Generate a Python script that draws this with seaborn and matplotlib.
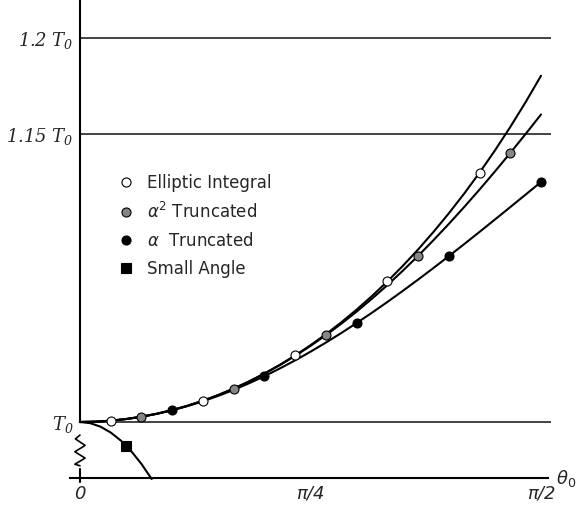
import numpy as np
import pandas as pd
import matplotlib.pyplot as plt
import seaborn as sns
from matplotlib.lines import Line2D

# amplitude theta0 in degrees, period in units of T0
theta = [0, 3, 6, 9, 12, 15, 18, 21, 24, 27, 30, 33, 36, 39, 42, 45,
         48, 51, 54, 57, 60, 63, 66, 69, 72, 75, 78, 81, 84, 87, 90]
elliptic = [1.0, 1.000171, 1.000686, 1.001544, 1.002749, 1.004300, 1.006203, 1.008462,
            1.011078, 1.014058, 1.017409, 1.021136, 1.025247, 1.029751, 1.034656, 1.039974,
            1.045715, 1.051892, 1.058518, 1.065610, 1.073182, 1.081254, 1.089844, 1.098977,
            1.108673, 1.118959, 1.129865, 1.141418, 1.153660, 1.166617, 1.180340]
alpha2_trunc = [1.0, 1.000171, 1.000686, 1.001544, 1.002749, 1.004300, 1.006202, 1.008458,
                1.011070, 1.014042, 1.017378, 1.021081, 1.025155, 1.029603, 1.034426, 1.039628,
                1.045208, 1.051166, 1.057501, 1.064210, 1.071289, 1.078732, 1.086532, 1.094678,
                1.103159, 1.111961, 1.121068, 1.130463, 1.140125, 1.150031, 1.160156]
alpha_trunc = [1.0, 1.000171, 1.000685, 1.001539, 1.002732, 1.004259, 1.006118, 1.008303,
               1.010807, 1.013624, 1.016747, 1.020166, 1.023873, 1.027857, 1.032107, 1.036612,
               1.041359, 1.046335, 1.051527, 1.056920, 1.0625, 1.068251, 1.074158, 1.080204,
               1.086373, 1.092648, 1.099011, 1.105446, 1.111934, 1.118458, 1.125]
small_theta = [0, 2, 4, 6, 8, 10, 12, 14]
small_angle = [1.0, 0.999391, 0.997564, 0.994522, 0.990268, 0.984808, 0.978148, 0.970296]

# marker points
ell_x = [6, 24, 42, 60, 78]
ell_y = [1.000686, 1.011078, 1.034656, 1.073182, 1.129865]
a2_x = [12, 30, 48, 66, 84]
a2_y = [1.002749, 1.017378, 1.045208, 1.086532, 1.140125]
a1_x = [18, 36, 54, 72, 90]
a1_y = [1.006118, 1.023873, 1.051527, 1.086373, 1.125]
sq_x = [9]
sq_y = [0.987688]

ref_levels = [1.0, 1.15, 1.2]
ref_labels = [r"$T_0$", r"$1.15\ T_0$", r"$1.2\ T_0$"]
x_ticks = [0, 45, 90]
x_labels = ["0", "π/4", "π/2"]

sns.set_style("white")
plt.rcParams['font.family'] = ['DejaVu Sans']
plt.rcParams['mathtext.fontset'] = 'dejavusans'
# serif italic set, used only by the y labels
plt.rcParams['mathtext.rm'] = 'DejaVu Serif:italic'
plt.rcParams['mathtext.it'] = 'DejaVu Serif:italic'

fig = plt.figure(figsize=(5.77, 5.08), dpi=100)
ax = fig.add_axes([70 / 577, 26 / 508, 481 / 577, 482 / 508])

x_axis_y = 0.970833
ax.set_xlim(-1.95, 91.95)
ax.set_ylim(0.96875, 1.219792)

# reference levels
ax.hlines(ref_levels, 0, 91.95, color='#222222', lw=1.2, zorder=1)

# curves
for ys in [elliptic, alpha2_trunc, alpha_trunc]:
    sns.lineplot(x=theta, y=ys, ax=ax, color='black', lw=1.5, sort=False,
                 estimator=None, zorder=2)
sns.lineplot(x=small_theta, y=small_angle, ax=ax, color='black', lw=1.5, sort=False,
             estimator=None, zorder=2)

# markers
ms = 42
sns.scatterplot(x=ell_x, y=ell_y, ax=ax, color='white', edgecolor='black', s=ms,
                linewidth=0.8, zorder=3)
sns.scatterplot(x=a2_x, y=a2_y, ax=ax, color='#858585', edgecolor='black', s=ms,
                linewidth=0.8, zorder=3)
sns.scatterplot(x=a1_x, y=a1_y, ax=ax, color='black', edgecolor='black', s=ms,
                linewidth=0.8, zorder=3)
sns.scatterplot(x=sq_x, y=sq_y, ax=ax, color='black', edgecolor='black', s=ms,
                marker='s', linewidth=0.8, zorder=3)

# axes lines
for s in ['top', 'right']:
    ax.spines[s].set_visible(False)
ax.spines['left'].set_position(('data', 0))
ax.spines['left'].set_bounds(1.0, 1.219792)
ax.spines['bottom'].set_position(('data', x_axis_y))
ax.spines['bottom'].set_bounds(-1.95, 91.4)
for s in ['left', 'bottom']:
    ax.spines[s].set_linewidth(1.5)
    ax.spines[s].set_color('black')

# axis break on y axis
ax.plot([0, 0], [0.97552, 0.96875], color='black', lw=1.5, clip_on=False)
ax.plot([0, -0.9, 1.0, -1.0, 1.0, -1.0, 0.0],
        [0.9932, 0.9912, 0.9878, 0.9845, 0.9812, 0.9780, 0.9772],
        color='black', lw=1.2, clip_on=False)

ax.set_xticks(x_ticks)
ax.set_xticklabels(x_labels)
ax.tick_params(axis='x', direction='in', length=8, width=1.2, pad=5, labelsize=13)
for tl in ax.get_xticklabels():
    tl.set_fontstyle('italic')
ax.set_yticks(ref_levels)
ax.set_yticklabels(ref_labels)
ax.tick_params(axis='y', length=0, pad=4.5, labelsize=13)
for tl in ax.get_yticklabels():
    tl.set_math_fontfamily('custom')

ax.text(93.0, x_axis_y, r"$\theta_{\mathit{0}}$", fontsize=13, ha='left', va='center')
ax.set_xlabel("")
ax.set_ylabel("")

handles = [
    Line2D([], [], marker='o', ls='none', mfc='white', mec='black', ms=6.5, mew=0.8),
    Line2D([], [], marker='o', ls='none', mfc='#858585', mec='black', ms=6.5, mew=0.8),
    Line2D([], [], marker='o', ls='none', mfc='black', mec='black', ms=6.5, mew=0.8),
    Line2D([], [], marker='s', ls='none', mfc='black', mec='black', ms=6.5, mew=0.8),
]
labels = ["Elliptic Integral", r"$\alpha^2$ Truncated", r"$\alpha$  Truncated", "Small Angle"]
ax.legend(handles, labels, loc='upper left', bbox_to_anchor=(117.7 / 577, (508 - 174) / 508),
          bbox_transform=fig.transFigure, frameon=False, fontsize=12, borderpad=0,
          borderaxespad=0, handlelength=1.0, handletextpad=0.76, labelspacing=0.6)

fig.savefig("out.png", dpi=100)
